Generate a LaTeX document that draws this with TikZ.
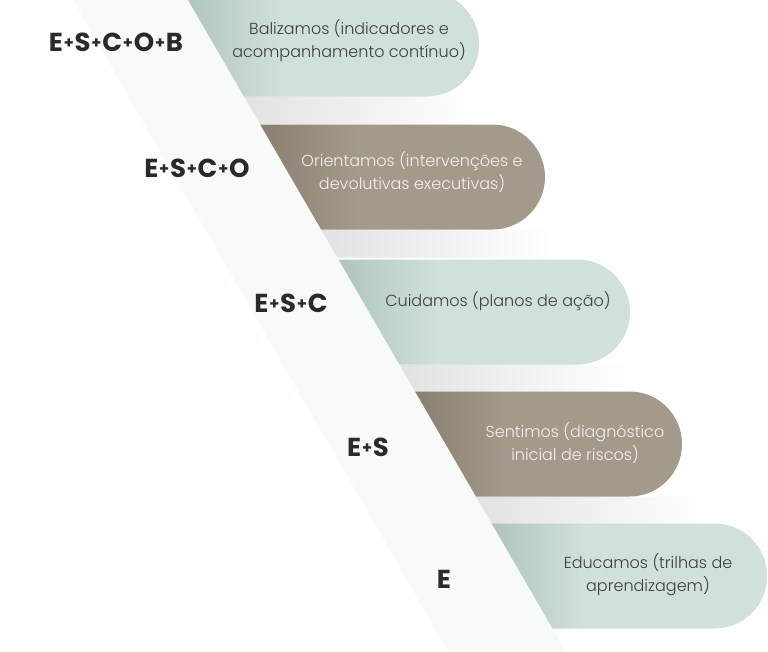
\documentclass[tikz,border=0pt]{standalone}
\usepackage{fontspec}
\setmainfont{Poppins}
\newfontfamily\stairlight{Poppins Light}
\usepackage{tikz}
\usetikzlibrary{positioning}
\usepackage{xcolor}
\definecolor{stairteal}{HTML}{CFE1DA}
\definecolor{stairtealdk}{HTML}{B0C4BD}
\definecolor{stairtaupe}{HTML}{A39A8C}
\definecolor{stairtaupedk}{HTML}{8A8072}
\definecolor{stairband}{HTML}{F8FAFA}
\definecolor{stairgap}{HTML}{E2E2E2}
\definecolor{stairink}{HTML}{2A2A2A}
\definecolor{stairgrey}{HTML}{3E3E3E}
\definecolor{stairwhite}{HTML}{F4F2EE}
\pgfdeclarehorizontalshading{tealedge}{100bp}{color(0bp)=(stairtealdk); color(25bp)=(stairtealdk);
  color(42bp)=(stairteal); color(100bp)=(stairteal)}
\pgfdeclarehorizontalshading{taupeedge}{100bp}{color(0bp)=(stairtaupedk); color(25bp)=(stairtaupedk);
  color(42bp)=(stairtaupe); color(100bp)=(stairtaupe)}
\newcommand\stairplus{\kern0.8pt\raisebox{2.8pt}{\fontsize{16}{16}\selectfont+}\kern0.8pt}

\begin{document}
\begin{tikzpicture}[x=1pt,y=1pt,
    levellabel/.style={font=\fontsize{26}{26}\selectfont\bfseries, text=stairink, inner sep=0pt},
    pilltext/.style={font=\stairlight\fontsize{16}{23}\selectfont, align=center, inner sep=0pt}]
\clip (0,0) rectangle (768,-651);
\fill[white] (0,0) rectangle (768,-651);
% diagonal band
\fill[stairband] (73,0) -- (188,0) -- (565.6,-651) -- (448,-651) -- cycle;
% pills with the shadow gap below each
\foreach \yc/\xr/\edge/\gap in {44/479/tealedge/1, 177/545/taupeedge/1,
    312/630/tealedge/1, 444/682/taupeedge/1, 576/767/tealedge/0}{
  \pgfmathsetmacro\yt{\yc-52.5}
  \pgfmathsetmacro\yb{\yc+52.5}
  \pgfmathsetmacro\yn{\yb+28}
  \pgfmathsetmacro\xlt{188+0.58*\yt}
  \pgfmathsetmacro\xlb{188+0.58*\yb}
  \pgfmathsetmacro\xln{188+0.58*\yn}
  \ifnum\gap=1
    \shade[left color=stairgap, right color=white]
      (\xlb,-\yb) -- (\xlb+230,-\yb) -- (\xlb+230,-\yn) -- (\xln,-\yn) -- cycle;
  \fi
  \path[shading=\edge]
    (\xlt,-\yt) -- (\xr-52.5,-\yt) arc[start angle=90, end angle=-90, radius=52.5pt]
    -- (\xlb,-\yb) -- cycle;
}
% pill texts
\node[pilltext, text=stairgrey] (baliz) at (349,-41) {Balizamos (indicadores e\\acompanhamento contínuo)};
\node[pilltext, text=stairwhite] (orient) at (412,-172) {Orientamos (intervenções e\\devolutivas executivas)};
\node[pilltext, text=stairgrey] (cuid) at (498,-301) {Cuidamos (planos de ação)};
\node[pilltext, text=stairwhite] (sent) at (575,-443) {Sentimos (diagnóstico\\inicial de riscos)};
\node[pilltext, text=stairgrey] (educ) at (648,-575) {Educamos (trilhas de\\aprendizagem)};
% level labels
\node[levellabel] (escob) at (116,-42) {E\stairplus S\stairplus C\stairplus O\stairplus B};
\node[levellabel] (esco) at (197,-168) {E\stairplus S\stairplus C\stairplus O};
\node[levellabel] (esc) at (291,-303) {E\stairplus S\stairplus C};
\node[levellabel] (es) at (368,-447) {E\stairplus S};
\node[levellabel] (e) at (444,-579) {E};
\end{tikzpicture}
\end{document}
